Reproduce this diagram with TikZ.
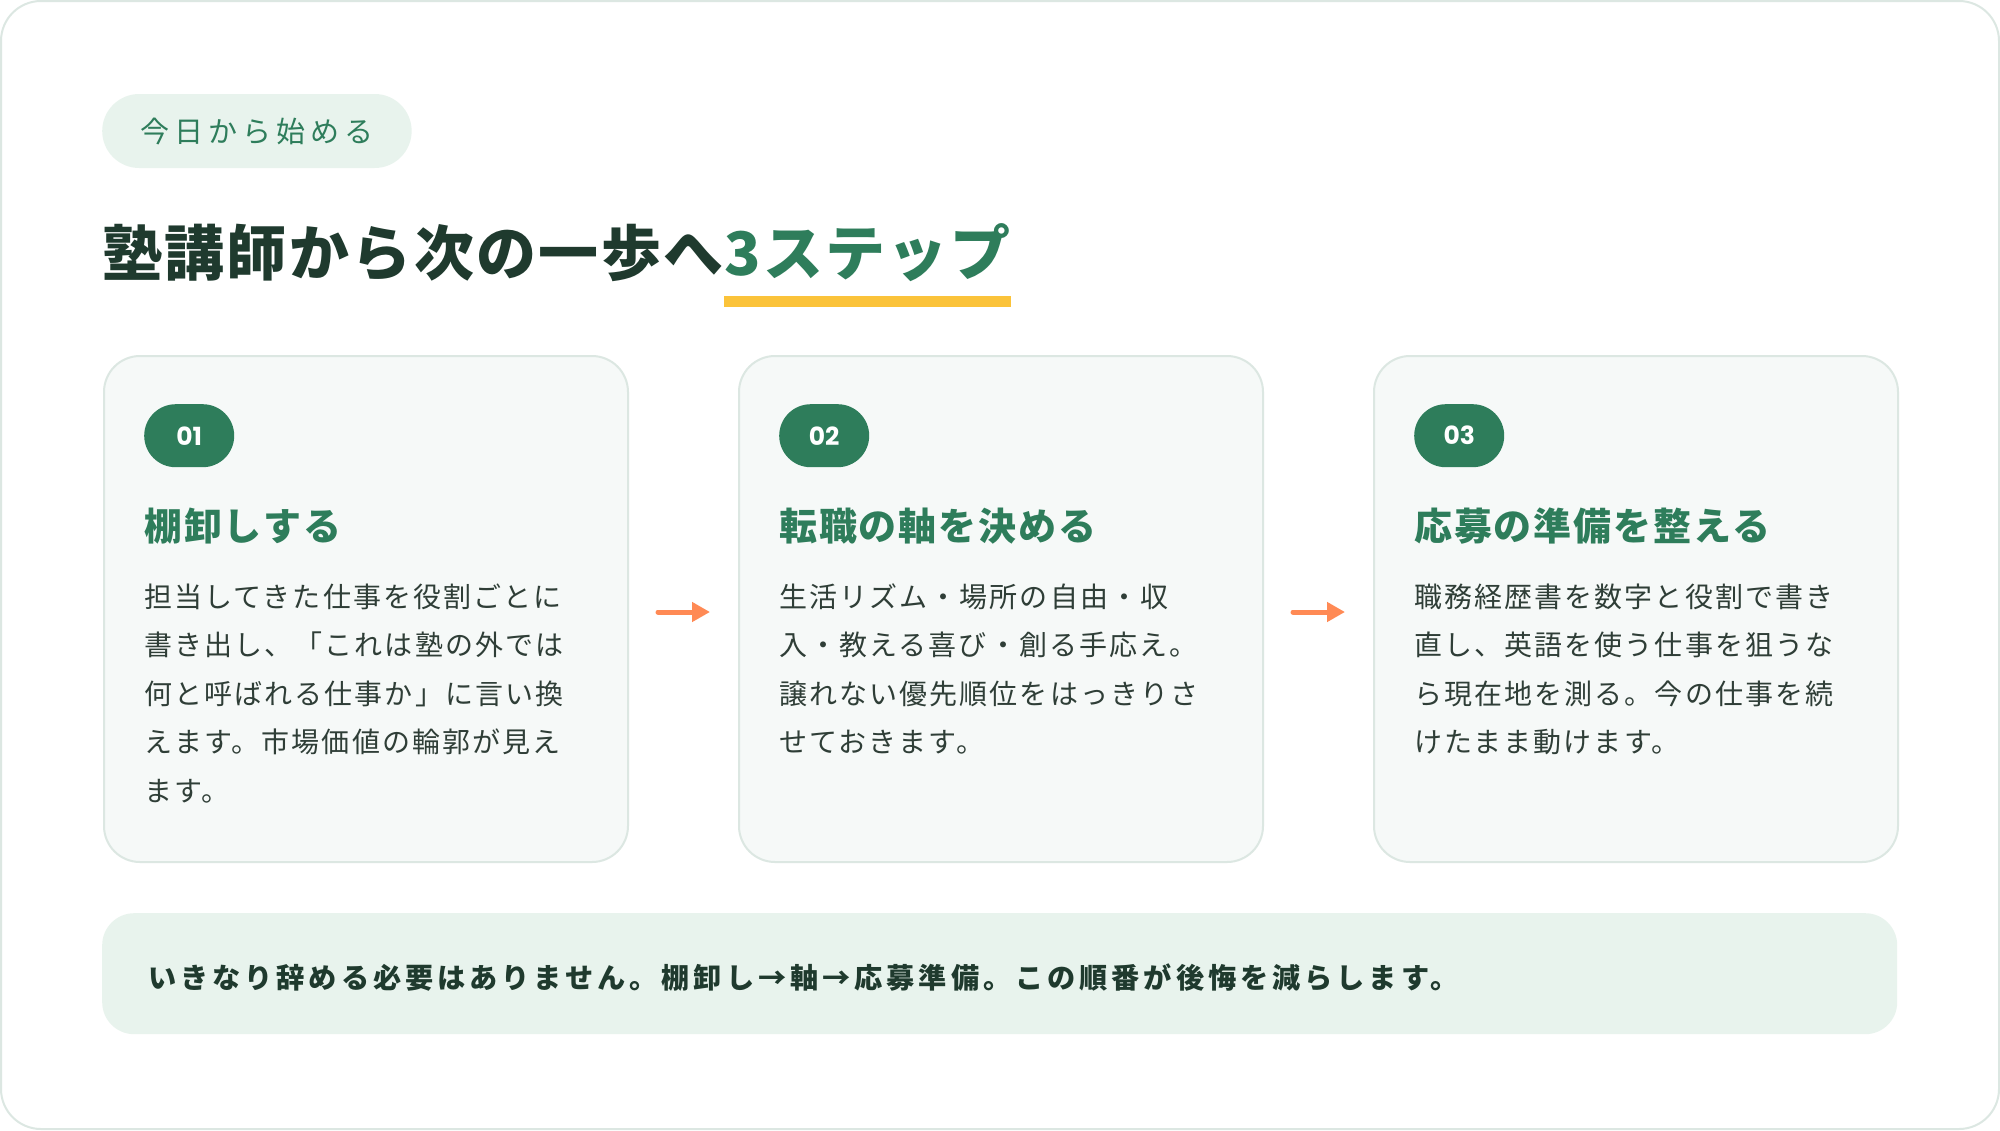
\documentclass[tikz,border=0pt]{standalone}
\usepackage{fontspec}
\setmainfont{Noto Sans CJK JP}
\newfontfamily\jptitle{Noto Sans CJK JP}[LetterSpace=4]
\newfontfamily\jpbody{Noto Sans CJK JP}[LetterSpace=7.5]
\newfontfamily\jptag{Noto Sans CJK JP}[LetterSpace=17.5]
\newfontfamily\jphead{Noto Sans CJK JP}[LetterSpace=5]
\newfontfamily\jpban{Noto Sans CJK JP}[LetterSpace=14]
\newfontfamily\numfont{Poppins}
\usetikzlibrary{arrows.meta,calc}
\definecolor{ink}{HTML}{1F3A2E}
\definecolor{bodyink}{HTML}{2F3E37}
\definecolor{brand}{HTML}{2E7D5B}
\definecolor{mint}{HTML}{E8F3ED}
\definecolor{cardbg}{HTML}{F6F9F8}
\definecolor{cardline}{HTML}{DCE7E2}
\definecolor{ulyellow}{HTML}{FBC33A}
\definecolor{flow}{HTML}{FF8A55}
\begin{document}
\begin{tikzpicture}[x=1pt,y=-1pt,
  frame/.style={draw=cardline,line width=2pt,rounded corners=40pt,fill=white},
  tag/.style={fill=mint,text=brand,rounded corners=37pt,minimum height=74pt,inner xsep=38pt,inner ysep=0pt,font={\jptag\fontsize{29}{32}\selectfont}},
  title/.style={inner sep=0pt,font={\jptitle\bfseries\fontsize{60}{66}\selectfont}},
  card/.style={draw=cardline,line width=2pt,fill=cardbg,rounded corners=36pt,minimum width=524pt,minimum height=506pt,inner sep=0pt},
  badge/.style={fill=brand,text=white,rounded corners=31.5pt,minimum height=63pt,minimum width=90pt,inner sep=0pt,font={\numfont\bfseries\fontsize{25}{28}\selectfont}},
  head/.style={inner sep=0pt,text=brand,font={\jphead\bfseries\fontsize{38}{42}\selectfont}},
  body/.style={inner sep=0pt,text=bodyink,align=left,text width=500pt,font={\jpbody\fontsize{28}{48.5}\selectfont}},
  flowarrow/.style={draw=flow,line width=5pt,line cap=round,-{Triangle[length=18pt,width=19pt]}},
  banner/.style={fill=mint,rounded corners=32pt,minimum width=1795pt,minimum height=121pt,inner sep=0pt},
  bantext/.style={inner sep=0pt,text=ink,font={\jpban\bfseries\fontsize{28.2}{31}\selectfont}}
]
\useasboundingbox (0,0) rectangle (2000,1130);
\draw[frame] (1,1) rectangle (1999,1129);

\node[tag,anchor=west] (tag) at (102,131) {今日から始める};

\node[title,text=ink,anchor=base west] (t1) at (102,275) {塾講師から次の一歩へ};
\node[title,text=brand,anchor=base west] (t2) at (t1.base east) {3ステップ};
\fill[ulyellow] ($(t2.base west)+(0,21)$) rectangle ($(t2.base east)+(0,32)$);

\node[card,anchor=north west] (c1) at (103,355) {};
\node[card,anchor=north west] (c2) at (738,355) {};
\node[card,anchor=north west] (c3) at (1373,355) {};

\node[badge,anchor=north west] (b1) at (144,404) {01};
\node[badge,anchor=north west] (b2) at (779,404) {02};
\node[badge,anchor=north west] (b3) at (1414,404) {03};

\node[head,anchor=base west] (h1) at (144,540) {棚卸しする};
\node[head,anchor=base west] (h2) at (779,540) {転職の軸を決める};
\node[head,anchor=base west] (h3) at (1414,540) {応募の準備を整える};

\node[body,anchor=base west] (p1) at (144,607) {担当してきた仕事を役割ごとに\\書き出し、「これは塾の外では\\何と呼ばれる仕事か」に言い換\\えます。市場価値の輪郭が見え\\ます。};
\node[body,anchor=base west] (p2) at (779,607) {生活リズム・場所の自由・収\\入・教える喜び・創る手応え。\\譲れない優先順位をはっきりさ\\せておきます。};
\node[body,anchor=base west] (p3) at (1414,607) {職務経歴書を数字と役割で書き\\直し、英語を使う仕事を狙うな\\ら現在地を測る。今の仕事を続\\けたまま動けます。};

\draw[flowarrow,shorten <=29pt,shorten >=28pt] ([yshift=-3pt]c1.east) -- ([yshift=-3pt]c2.west);
\draw[flowarrow,shorten <=29pt,shorten >=28pt] ([yshift=-3pt]c2.east) -- ([yshift=-3pt]c3.west);

\node[banner,anchor=north west] (ban) at (102,913) {};
\node[bantext,anchor=base west] (bt) at (148,988) {いきなり辞める必要はありません。棚卸し→軸→応募準備。この順番が後悔を減らします。};
\end{tikzpicture}
\end{document}
